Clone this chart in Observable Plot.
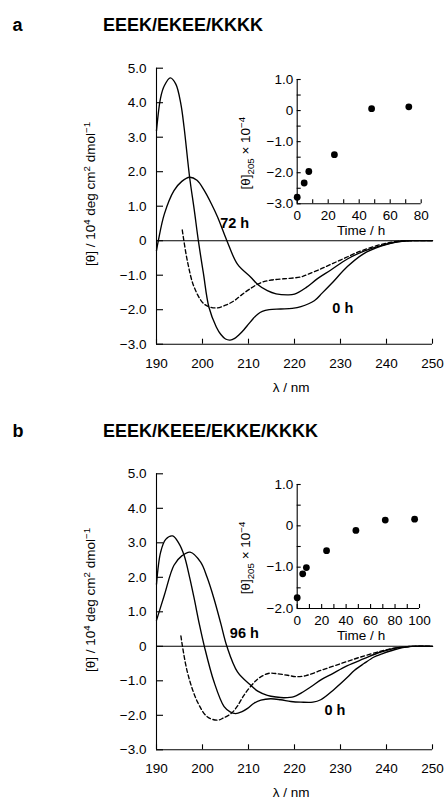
<!DOCTYPE html>
<html><head><meta charset="utf-8">
<script src="https://cdn.jsdelivr.net/npm/d3@7"></script>
<script src="https://cdn.jsdelivr.net/npm/@observablehq/plot@0.6"></script>
<style>
body{margin:0;background:#fff;}
#root{position:relative;width:444px;height:800px;overflow:hidden;background:#fff;}
#root svg{position:absolute;}
</style></head><body><div id="root"></div>
<script>
// ---------- data ----------
const panelLetters = ["a", "b"];
const panelTitles = ["EEEK/EKEE/KKKK", "EEEK/KEEE/EKKE/KKKK"];

// Panel a, main CD spectra
const aWave0h  = [190, 190.9, 191.7, 193, 194.2, 195.3, 196, 197.2, 198.2, 199.1, 200.2, 201.4, 203, 204, 205, 206, 207, 208, 209, 210, 211, 212, 213, 214.5, 217, 219.5, 221.4, 224.3, 226, 228, 231.5, 235, 238.8, 242.4, 245, 250];
const aTheta0h = [3.19, 4.15, 4.49, 4.72, 4.54, 3.96, 3.28, 1.84, 0.9, 0, -0.95, -1.93, -2.5, -2.72, -2.85, -2.88, -2.83, -2.72, -2.58, -2.42, -2.26, -2.13, -2.05, -2.0, -1.98, -1.96, -1.91, -1.74, -1.52, -1.25, -0.75, -0.38, -0.16, -0.03, 0, 0];
const aWave72h  = [190, 190.4, 191.7, 193.8, 195.5, 197.2, 198.8, 200.4, 202, 203.3, 205.3, 207.6, 210.5, 212, 214.1, 216, 218.5, 220, 222.5, 225, 227.9, 231.5, 235.1, 238.8, 242.4, 245, 250];
const aTheta72h = [-0.29, 0, 0.77, 1.45, 1.72, 1.84, 1.75, 1.45, 1.05, 0.68, 0, -0.68, -1.06, -1.27, -1.45, -1.54, -1.57, -1.55, -1.36, -1.1, -0.85, -0.53, -0.3, -0.14, -0.03, 0, 0];
const aWaveDash  = [195.6, 196.7, 198.2, 200.4, 202.9, 205, 206.9, 208.5, 210.5, 212, 213.5, 215, 217, 219, 221.4, 223, 225.7, 228, 231, 234, 237, 240, 243, 246, 250];
const aThetaDash = [0.31, -0.58, -1.35, -1.84, -1.95, -1.87, -1.74, -1.57, -1.38, -1.26, -1.18, -1.14, -1.11, -1.09, -1.05, -0.97, -0.82, -0.68, -0.5, -0.32, -0.18, -0.07, -0.01, 0, 0];
const aLabelText = ["72 h", "0 h"];
const aLabelWave = [207, 230.5];
const aLabelTheta = [0.51, -1.96];

// Panel a, inset
const aTimes = [0, 4.5, 7.5, 24, 48, 72];
const aTheta205 = [-2.79, -2.33, -1.96, -1.42, 0.06, 0.12];

// Panel b, main CD spectra
const bWave0h  = [190, 190.9, 192, 193.5, 194.8, 196, 197.2, 198.2, 199.3, 200.4, 202.5, 204.7, 206, 207.2, 208.5, 209.8, 211.2, 212.7, 214.8, 217, 219.2, 221.4, 224, 225.7, 228.6, 231.5, 233, 235.1, 237.3, 239, 241.7, 245, 250];
const bTheta0h = [1.8, 2.73, 3.1, 3.2, 3.0, 2.64, 2.0, 1.38, 0.65, 0, -1.03, -1.75, -1.9, -1.95, -1.9, -1.8, -1.65, -1.56, -1.52, -1.55, -1.6, -1.62, -1.62, -1.55, -1.25, -0.9, -0.7, -0.5, -0.31, -0.22, -0.1, -0.01, 0];
const bWave96h  = [190, 191.7, 193.8, 195.5, 197.3, 199.6, 201, 202.5, 204, 205.3, 207.6, 210.5, 212, 214.1, 216, 217.7, 219.9, 221.5, 223.5, 226, 227.9, 231.5, 235.1, 238.4, 242, 245, 250];
const bTheta96h = [0.75, 1.48, 2.35, 2.62, 2.73, 2.44, 2.0, 1.38, 0.65, 0, -0.74, -1.13, -1.3, -1.42, -1.47, -1.49, -1.46, -1.35, -1.18, -0.95, -0.82, -0.56, -0.36, -0.18, -0.05, 0, 0];
const bWaveDash  = [195.3, 196.7, 198.9, 201.1, 203.3, 204.5, 206.2, 207.5, 209, 211.2, 212.5, 214.5, 216.5, 218.5, 220.5, 222.5, 225.7, 230.1, 234.4, 238.8, 241, 243.1, 246, 250];
const bThetaDash = [0.3, -0.74, -1.61, -2.05, -2.14, -2.08, -1.95, -1.75, -1.42, -1.05, -0.9, -0.78, -0.8, -0.84, -0.88, -0.85, -0.7, -0.5, -0.31, -0.14, -0.07, -0.03, 0, 0];
const bLabelText = ["96 h", "0 h"];
const bLabelWave = [209.1, 228.8];
const bLabelTheta = [0.37, -1.85];

// Panel b, inset
const bTimes = [0, 4.5, 7.5, 24, 48, 72, 96];
const bTheta205 = [-1.74, -1.16, -1.01, -0.6, -0.11, 0.14, 0.16];

// Axis ticks
const mainXTicks = [190, 200, 210, 220, 230, 240, 250];
const mainYTicks = [5, 4, 3, 2, 1, 0, -1, -2, -3];
const insetATimeTicks = [0, 10, 20, 30, 40, 50, 60, 70, 80];
const insetBTimeTicks = [0, 10, 20, 30, 40, 50, 60, 70, 80, 90, 100];
const insetAYTicks = [1, 0.5, 0, -0.5, -1, -1.5, -2, -2.5, -3];
const insetBYTicks = [1, 0.5, 0, -0.5, -1, -1.5, -2];

// ---------- helpers ----------
const FONT = "'Liberation Sans', Arial, Helvetica, sans-serif";
const fmt = d => d === 0 ? "0" : d.toFixed(1).replace("-", "\u2212");
const pts = (xs, ys) => xs.map((x, i) => ({x, y: ys[i]}));

function addText(svg, {x, y, rotate = 0, parts, size = 13.5, anchor = "middle", weight = "normal"}) {
  const t = d3.select(svg).append("text")
    .attr("transform", `translate(${x},${y})` + (rotate ? ` rotate(${rotate})` : ""))
    .attr("text-anchor", anchor)
    .attr("font-family", FONT)
    .attr("font-size", size)
    .attr("font-weight", weight)
    .attr("fill", "black");
  let shift = 0;
  for (const p of parts) {
    const s = typeof p === "string" ? {t: p} : p;
    const target = s.sup ? -5 : s.sub ? 3.5 : 0;
    const ts = t.append("tspan").text(s.t).attr("dy", target - shift);
    if (s.sup || s.sub) ts.attr("font-size", size * 0.72);
    shift = target;
  }
  return t;
}

function mainPlot({top, height, mt, mb, solid1, solid2, dash, labels, letter, title, root}) {
  const svg = Plot.plot({
    width: 444, height, marginLeft: 156, marginRight: 12, marginTop: mt, marginBottom: mb,
    style: {fontFamily: FONT, fontSize: "13.5px", background: "transparent", color: "black", overflow: "visible"},
    x: {domain: [190, 250], label: null},
    y: {domain: [-3, 5], label: null},
    marks: [
      Plot.ruleY([0], {stroke: "black", strokeWidth: 1.1}),
      Plot.ruleX([190], {stroke: "black", strokeWidth: 1.1}),
      Plot.ruleY([-3], {stroke: "black", strokeWidth: 1.1}),
      Plot.axisY(mainYTicks, {tickSize: -7, tickPadding: 17, tickFormat: fmt, strokeWidth: 1.1}),
      Plot.axisX(mainXTicks, {tickSize: -5, tickPadding: 19, tickFormat: d => String(d), strokeWidth: 1.1}),
      Plot.line(solid1, {x: "x", y: "y", curve: "catmull-rom", stroke: "black", strokeWidth: 1.35}),
      Plot.line(solid2, {x: "x", y: "y", curve: "catmull-rom", stroke: "black", strokeWidth: 1.35}),
      Plot.line(dash, {x: "x", y: "y", curve: "catmull-rom", stroke: "black", strokeWidth: 1.35, strokeDasharray: "4,2.6"}),
      Plot.text(labels, {x: "x", y: "y", text: "t", fontWeight: "bold", fontSize: 14.5, fill: "black"})
    ]
  });
  svg.style.left = "0px";
  svg.style.top = top + "px";
  root.appendChild(svg);
  addText(svg, {x: 12.5, y: 30.5, parts: [letter], size: 18, anchor: "start", weight: "bold"});
  addText(svg, {x: 103, y: 30.7, parts: [title], size: 18, anchor: "start", weight: "bold"});
  addText(svg, {x: 95, y: 194, rotate: -90, parts: ["[\u03b8] / 10", {t: "4", sup: true}, " deg cm", {t: "2", sup: true}, " dmol", {t: "\u22121", sup: true}], size: 13.5}).attr("dy", 5);
  addText(svg, {x: 291, y: height - mb + 48, parts: ["\u03bb / nm"], size: 13.5});
  return svg;
}

function insetPlot({left, top, mr, mb, xDomain, yDomain, xTicks, yTicks, times, vals, root}) {
  const svg = Plot.plot({
    width: 214, height: 190, marginLeft: 66.7, marginTop: 19, marginRight: mr, marginBottom: mb,
    style: {fontFamily: FONT, fontSize: "13.5px", background: "transparent", color: "black", overflow: "visible"},
    x: {domain: xDomain, label: null},
    y: {domain: yDomain, label: null},
    marks: [
      Plot.ruleX([xDomain[0]], {stroke: "black", strokeWidth: 1.1}),
      Plot.ruleY([yDomain[0]], {stroke: "black", strokeWidth: 1.1}),
      Plot.axisY(yTicks, {tickSize: -4, tickPadding: 8, tickFormat: d => Number.isInteger(d) ? fmt(d) : "", strokeWidth: 1.1}),
      Plot.axisX(xTicks, {tickSize: -4, tickPadding: 11, tickFormat: d => d % 20 === 0 ? String(d) : "", strokeWidth: 1.1}),
      Plot.dot(pts(times, vals), {x: "x", y: "y", r: 3.4, fill: "black", stroke: "none"})
    ]
  });
  svg.style.left = left + "px";
  svg.style.top = top + "px";
  root.appendChild(svg);
  const fb = 190 - mb;
  addText(svg, {x: 20, y: 19 + (fb - 19) / 2 + 12, rotate: -90, parts: ["[\u03b8]", {t: "205", sub: true}, " \u00d7 10", {t: "\u22124", sup: true}], size: 13.5}).attr("dy", 5);
  addText(svg, {x: 131, y: fb + 32, parts: ["Time / h"], size: 13.5});
  return svg;
}

const root = document.getElementById("root");
const lab = (t, w, v) => t.map((s, i) => ({t: s, x: w[i], y: v[i]}));

mainPlot({top: 0, height: 400, mt: 67.7, mb: 56.3,
  solid1: pts(aWave0h, aTheta0h), solid2: pts(aWave72h, aTheta72h), dash: pts(aWaveDash, aThetaDash),
  labels: lab(aLabelText, aLabelWave, aLabelTheta), letter: panelLetters[0], title: panelTitles[0], root});
insetPlot({left: 230, top: 60, mr: 23.3, mb: 46.7, xDomain: [0, 80], yDomain: [-3, 1],
  xTicks: insetATimeTicks, yTicks: insetAYTicks, times: aTimes, vals: aTheta205, root});

mainPlot({top: 406, height: 394, mt: 67.3, mb: 50.7,
  solid1: pts(bWave0h, bTheta0h), solid2: pts(bWave96h, bTheta96h), dash: pts(bWaveDash, bThetaDash),
  labels: lab(bLabelText, bLabelWave, bLabelTheta), letter: panelLetters[1], title: panelTitles[1], root});
insetPlot({left: 230, top: 465.3, mr: 25, mb: 47, xDomain: [0, 100], yDomain: [-2, 1],
  xTicks: insetBTimeTicks, yTicks: insetBYTicks, times: bTimes, vals: bTheta205, root});
</script>
</body></html>
